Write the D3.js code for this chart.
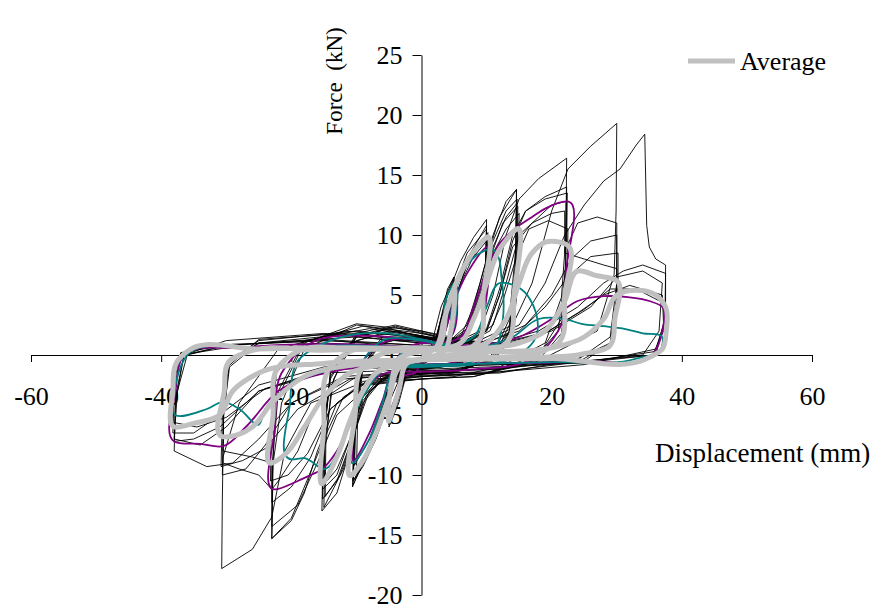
<!DOCTYPE html>
<html lang="en">
<head>
    <meta charset="UTF-8">
    <title>Force - displacement</title>
    <script src="https://cdn.jsdelivr.net/npm/d3@7/dist/d3.min.js"></script>
    <style>
        body { margin: 0; background: #fff; }
        svg { display: block; }
        svg text { font-family: "Liberation Serif", "Times New Roman", serif; fill: #000; }
        svg .axis path, svg .axis line { stroke: #000; stroke-width: 1px; }
        svg .specimen { fill: none; stroke: #000; stroke-width: 0.9px; stroke-linejoin: round; }
        svg .purple { fill: none; stroke: #800080; stroke-width: 1.8px; stroke-linejoin: round; }
        svg .teal { fill: none; stroke: #008080; stroke-width: 1.8px; stroke-linejoin: round; }
        svg .average { fill: none; stroke: #c0c0c0; stroke-width: 5px; stroke-linejoin: round; }
    </style>
</head>
<body>
    <svg width="879" height="609"></svg>
    <script>
    // tick labels
    var xTicks = [-60, -40, -20, 0, 20, 40, 60],
        yTicks = [-20, -15, -10, -5, 0, 5, 10, 15, 20, 25];

    // test specimens, [displacement mm, force kN]
    var spec1 = [[0,0],[1.5,0.8],[3,4],[5,6.5],[4.6,2],[3.5,0.5],[1,-0.5],[0,-0.8],[-2,-1],[-3.5,-4],[-5,-6],[-4.6,-2],[-3.5,-0.5],[-1,0.8],[0,1],
        [2,1],[4,5],[6,7.8],[8,9.8],[10,11.3],[9.8,6],[9,1.5],[7,-0.5],[3,-1],[0,-1.2],[-3,-1.5],[-5,-4],[-7,-7],[-9,-9.3],[-10.5,-10.5],[-10.2,-5],[-9,-1],[-6,1],[-2,1.5],[0,1.2],
        [3,1],[6,1.5],[8,4],[10,8],[12,11.5],[14.6,13.8],[14.5,9],[13.5,3],[11,0],[6,-1.2],[0,-1.5],[-5,-1.8],[-8,-3],[-10,-6],[-12,-9.5],[-15,-12.7],[-14.8,-7],[-13.5,-2],[-10,1.5],[-5,2.2],[0,1.5],
        [5,1],[9,2],[11,5],[13,10],[15,13],[18,14.7],[22.3,16.4],[22.2,10],[21.5,4.8],[19,1],[12,-1],[5,-1.8],[0,-2],[-8,-2.2],[-12,-3.5],[-15,-7],[-18,-11],[-20,-13.6],[-23,-15.3],[-22.8,-9],[-21.5,-4],[-18,0.5],[-10,2.5],[0,1.8],
        [8,1],[14,2.5],[17,6],[20,12],[22.5,15.5],[26,17.4],[30,19.3],[29.9,12],[29.6,6.7],[27,2],[18,-0.5],[8,-1.8],[0,-2],[-10,-2.5],[-17,-4],[-21,-8],[-23,-13.5],[-26,-16.2],[-30.7,-17.8],[-30.6,-12],[-30.5,-8.5],[-28,-4],[-22,0.5],[-12,2],[0,1.5],
        [12,1],[20,2],[26,4],[30,6.5],[34,7],[37,6],[36.5,2],[34,0],[20,-0.8],[0,-1.2],[-15,-1.5],[-25,-3],[-30,-6],[-34,-7.5],[-38,-7],[-37.5,-3],[-36,0],[-30,0.8],[-15,1.2],[0,0.8]];

    var spec2 = [[0,0],[2,1],[3.5,4],[5,5.5],[4.5,1.5],[3,0],[0,-0.8],[-2,-1],[-3.5,-3.5],[-5,-5],[-4.5,-1.5],[-3,0.5],[0,1],
        [3,1],[5,4.5],[7,7.5],[10,10],[9.8,5],[9,1],[6,-0.8],[0,-1.2],[-4,-1.5],[-6,-4],[-8,-7.5],[-10,-9.8],[-9.8,-5],[-9,-1],[-6,1.2],[0,1.5],
        [4,1],[7,2],[9,5],[11,9],[13,11.5],[14.6,12.6],[14.4,7],[13.5,2],[10,-0.5],[4,-1.5],[0,-1.6],[-6,-2],[-9,-3.5],[-11,-7],[-13,-10],[-15.2,-11.2],[-15,-6],[-14,-1.5],[-10,1.5],[-4,2.3],[0,1.8],
        [6,1],[10,2],[12,5],[14,9.5],[16,12],[19,13.2],[22.3,14],[22.2,8],[21.5,3],[18,0],[10,-1.5],[0,-1.8],[-8,-2],[-13,-4],[-16,-8],[-18,-11.5],[-20,-13.8],[-23,-15.3],[-22.9,-10],[-22.5,-4],[-18,1],[-10,2.6],[0,2],
        [9,1],[15,2.5],[19,6],[22,10],[25,12.5],[28,14.5],[30.5,15.5],[33,17.5],[34.3,18.4],[34.6,10.8],[35,9],[36,8],[37.5,7.5],[37.5,3],[36,0.5],[25,-0.8],[10,-1.5],[0,-1.5],[-12,-2],[-20,-4],[-25,-7],[-29,-9],[-33,-9.3],[-38,-8],[-37.8,-4],[-36.5,0],[-30,1.2],[-15,1.8],[0,1]];

    var spec3 = [[0,0],[2,0.8],[4,5],[5,6.2],[4.5,2],[3,0],[0,-0.6],[-2,-0.8],[-4,-4.5],[-5,-5.5],[-4.5,-1.5],[-3,0.3],[0,0.8],
        [3,0.8],[5,5.5],[7,8.5],[10,10.5],[9.8,5],[9,1],[6,-0.8],[0,-1],[-4,-1.3],[-6,-4.5],[-8,-8],[-10.5,-10.8],[-10.2,-5],[-9,-0.5],[-6,1.5],[0,1.5],
        [4,1],[7,2.5],[9,6],[11,10],[13,12.8],[14.6,13.8],[14.5,8],[13.5,2.5],[11,-0.3],[5,-1.5],[0,-1.8],[-6,-2],[-9,-4],[-11,-8],[-13,-11.5],[-15.3,-13],[-15.1,-7],[-14,-2],[-10,1.8],[-4,2.5],[0,2],
        [7,1],[11,2.5],[13,6],[15,10],[18,11.5],[20,12.5],[22.2,12.8],[22.1,7],[21,2],[17,-0.5],[8,-1.8],[0,-2],[-8,-2.5],[-13,-5],[-16,-9],[-19,-12.5],[-23,-14.3],[-22.9,-9],[-22,-3],[-18,1.2],[-8,2.2],[0,1.5],
        [10,1],[16,2.5],[20,5],[23,8],[26,9.5],[30,10],[30,5],[29,1],[25,-0.5],[10,-1.2],[0,-1.3],[-12,-1.8],[-20,-4],[-24,-7.5],[-27,-9.5],[-30.6,-10],[-30.4,-5],[-29.5,-1],[-25,1],[-10,1.5],[0,1]];

    var spec4 = [[0,0],[2,0.6],[4,4.5],[5,5],[4.5,1.5],[3,0],[0,-0.5],[-2,-0.8],[-4,-4],[-5,-5],[-4.5,-1.5],[-3,0],[0,0.6],
        [3,0.6],[5,4.5],[7,7.5],[10,9.5],[9.8,4.5],[9,0.8],[6,-0.6],[0,-0.9],[-4,-1.2],[-6,-4],[-8,-7],[-10.3,-9.2],[-10,-4.5],[-9,-0.5],[-6,1.2],[0,1.2],
        [4,0.8],[7,2],[9,5],[11,8.5],[13,10.5],[15,11.8],[14.8,6],[14,1.5],[11,-0.5],[5,-1.2],[0,-1.4],[-6,-1.7],[-9,-3.5],[-11,-7],[-13,-9.5],[-15,-10.8],[-14.8,-6],[-14,-1.5],[-10,1.2],[-4,2],[0,1.6],
        [6,0.8],[10,2],[12,5],[14,9],[17,11],[20,11.8],[22,12],[22,8.5],[25,8],[28,7.5],[30,7.2],[30,4],[29,1],[24,-0.3],[12,-1.2],[0,-1.4],[-10,-1.8],[-16,-4],[-19,-8],[-22,-10.5],[-23,-11.2],[-25,-10],[-28,-9.5],[-30.5,-9],[-30.4,-5],[-29.5,-0.5],[-25,1],[-10,1.8],[0,1.2],
        [10,0.6],[18,1.5],[24,3.5],[28,5],[32,5.8],[37,5],[37.2,2.5],[36,0],[25,-0.5],[0,-0.8],[-15,-1],[-25,-2.5],[-31,-5],[-35,-6.5],[-38.2,-6.5],[-38,-3],[-37,0],[-30,0.6],[-15,1],[0,0.6]];

    var spec5 = [[0,0],[2,0.7],[4,5.5],[5,6.5],[4.5,2],[3,0.2],[0,-0.7],[-2,-0.9],[-4,-4.5],[-5,-5.8],[-4.6,-2],[-3,0.2],[0,0.8],
        [3,0.8],[5,5],[7,8],[10,10.8],[9.8,5.5],[9,1],[6,-0.8],[0,-1.1],[-4,-1.4],[-6,-4.5],[-8,-8],[-10.5,-10.5],[-10.2,-5],[-9,-0.8],[-6,1.3],[0,1.4],
        [4,1],[7,2.2],[9,5.5],[11,9.5],[13,12],[14.7,13],[14.6,7],[13.5,2],[11,-0.4],[5,-1.4],[0,-1.6],[-6,-1.9],[-9,-3.8],[-11,-7.5],[-13,-10.5],[-15.2,-12],[-15,-6.5],[-14,-1.8],[-10,1.6],[-4,2.4],[0,1.9],
        [6,1],[10,2.2],[12,5.5],[14,10],[16,12],[19,13],[22.4,13.5],[22.3,9],[24,11],[27,11.5],[30,11],[30,6],[29,1.5],[24,-0.4],[12,-1.5],[0,-1.7],[-9,-2.2],[-14,-4.5],[-17,-8.5],[-20,-11],[-23,-12.3],[-23,-9],[-26,-8.5],[-30.5,-8],[-30.4,-4],[-29.5,-0.5],[-25,1.2],[-10,2],[0,1.4],
        [10,0.8],[18,2],[24,4],[28,6],[31,7],[34,7.5],[37.5,6.8],[37.4,3],[36,0.3],[25,-0.6],[0,-1],[-15,-1.2],[-25,-3],[-31,-6],[-35,-7],[-38,-7.2],[-37.8,-3.5],[-36.5,0],[-30,0.8],[-15,1.3],[0,0.8]];

    var spec6 = [[0,0],[1.8,0.5],[3.5,3.5],[5,5.2],[4.6,1.8],[3.2,0.1],[0,-0.6],[-1.8,-0.8],[-3.8,-3.8],[-5,-5.3],[-4.6,-1.8],[-3.2,0.1],[0,0.7],
        [2.8,0.7],[4.5,3.8],[6.5,6.5],[8.5,8.8],[10.2,10.2],[10,6.5],[9.5,2],[7.5,-0.3],[3,-1],[0,-1.1],[-3.5,-1.3],[-5.5,-3.5],[-7.5,-6.8],[-9.5,-9.5],[-10.6,-11],[-10.4,-6],[-9.4,-1.5],[-7,0.8],[-2,1.6],[0,1.3],
        [3.5,0.9],[6.5,1.6],[8.5,4.5],[10.5,8],[12.5,11],[14.8,12.4],[14.7,7.5],[13.8,2.2],[11.5,-0.2],[6,-1.3],[0,-1.6],[-5.5,-1.8],[-8.5,-3.4],[-10.5,-6.8],[-12.5,-10],[-14.8,-11.8],[-14.7,-7.5],[-13.8,-2.5],[-11,1],[-5,2],[0,1.6],
        [6.5,0.9],[10.5,2],[12.5,4.5],[14.5,8],[16.5,10.5],[19.5,11.2],[22.5,10.5],[22.4,6],[21.5,1.8],[18,-0.4],[9,-1.6],[0,-1.8],[-9,-2.4],[-14,-4.5],[-17.5,-8.2],[-20.5,-10],[-23.2,-10.5],[-23.1,-6],[-22.3,-1.5],[-18.5,1],[-9,2.4],[0,1.6],
        [9,0.9],[15,2],[19,4],[22.5,6.5],[26,8.2],[30.2,8.5],[30.2,4.5],[29.2,1],[24,-0.6],[12,-1.4],[0,-1.5],[-11,-2],[-19,-4.5],[-24,-7.8],[-27.5,-8.8],[-30.8,-9.3],[-30.6,-5],[-29.8,-1],[-25,1.3],[-12,1.8],[0,1.1],
        [11,0.8],[19,1.8],[25,3.8],[29,5.5],[33,5.5],[37.3,4.3],[37.2,2],[35.5,0],[24,-0.7],[0,-0.9],[-14,-1.2],[-24,-2.8],[-30,-5.2],[-34.5,-6],[-38.3,-5.6],[-38.1,-2.5],[-37,0.2],[-29,0.9],[-14,1.2],[0,0.6]];

    var specPurple = [[0,0],[2,0.8],[3.5,3.5],[5,5.5],[4.5,1.5],[2,0.5],[0,-0.5],[-1,-1.5],[-2.5,-1.7],[-4,-3.5],[-5,-5],[-4.5,-1.5],[-3,0.3],[0,1],
        [2,1],[5,4.5],[7,6.8],[10,9],[9.8,4],[8.5,0.5],[5,-0.6],[0,-1],[-4,-1.2],[-6,-3.8],[-8,-6.5],[-10.3,-8.8],[-10,-4],[-9,-0.5],[-6,1],[0,1.3],
        [3,1],[6,1.5],[8,4],[10,7],[12,9.3],[14.8,10.7],[17,11.5],[19,12.2],[22.3,12.8],[22.2,7],[21,2],[17,-0.3],[8,-1.2],[0,-1.4],[-6,-1.6],[-9,-3],[-11,-5.5],[-13,-8],[-15.5,-9.6],[-17,-10],[-19,-10.5],[-22.6,-11.2],[-22.5,-6],[-21.5,-1.5],[-17,1],[-8,1.6],[0,1.2],
        [8,0.8],[15,1.5],[20,3],[24,4.5],[28,4.9],[32,4.8],[35,4.5],[37,4],[37,2],[35.5,0],[25,-0.5],[0,-0.8],[-12,-1.2],[-22,-3],[-27,-6],[-30.5,-7.6],[-34,-7.4],[-38,-7.2],[-37.8,-3],[-36.5,0],[-28,0.6],[-12,0.9],[0,0.6]];

    var specTeal = [[0,0],[2,0.6],[4,5],[5,6],[4.5,1.5],[3,0],[0,-0.5],[-2,-0.7],[-4,-4],[-5,-5.2],[-4.5,-1.5],[-3,0.2],[0,0.7],
        [3,0.7],[5,5],[7,7.5],[9,8.5],[11,8.8],[11.5,8.5],[12.3,6.4],[12.5,3],[11.5,0.8],[8,-0.5],[0,-0.9],[-4,-1.2],[-6,-4],[-8,-7],[-10.5,-9],[-10.3,-4.5],[-9,-0.5],[-6,1.2],[0,1.2],
        [4,0.8],[8,1.5],[10,4],[12,6],[15,5.6],[17.6,3.5],[17.6,1.5],[15,0],[8,-0.8],[0,-1],[-6,-1.3],[-9,-3.5],[-12,-7],[-15,-9.5],[-18,-8.6],[-20,-8.7],[-20.2,-4],[-19,-0.5],[-14,1.2],[-5,1.8],[0,1.3],
        [8,0.6],[14,1.5],[18,3],[22,3],[24.6,2.6],[28,2.4],[31,2.2],[34,1.8],[37,1.5],[36.8,0.5],[33,-0.3],[20,-0.6],[0,-0.8],[-12,-1],[-20,-2.5],[-24,-4.5],[-25,-5.8],[-28,-4.5],[-30.4,-3.9],[-33,-4.5],[-37.8,-5],[-37.6,-2],[-36,0],[-25,0.5],[-10,0.8],[0,0.5]];

    // average curve
    var average = [[0,0],[2,0.5],[3.5,3],[5,5.5],[4.5,2],[3.5,0.3],[1,-0.2],[0,-0.3],[-2,-0.6],[-3.5,-3],[-5,-5.5],[-4.5,-2],[-3.5,-0.3],[-1,0.2],[0,0.3],
        [2,0.5],[4,4],[6,6.8],[8,8.6],[10,9.8],[9.5,5],[8.5,1],[6,0.2],[2,-0.2],[0,-0.4],[-3,-0.8],[-5,-3.5],[-7,-6.5],[-9,-8.8],[-10.7,-10],[-10.2,-5],[-9,-1],[-6,0.1],[-2,0.4],[0,0.5],
        [3,0.5],[6,1],[8,3],[10,6],[12,8.8],[14.6,10.5],[14.2,5],[13,1],[10,0.2],[5,-0.1],[0,-0.4],[-4,-0.8],[-7,-1.5],[-9,-3],[-11,-5.5],[-13,-8.5],[-15.2,-10.7],[-15,-6],[-14,-1],[-11,0.3],[-5,0.5],[0,0.6],
        [5,0.5],[10,1],[13,3],[15,6],[17,8.5],[19,9.4],[22.3,9.2],[22,5],[21,1],[18,0.2],[10,-0.2],[0,-0.4],[-6,-0.8],[-11,-1.5],[-15,-3.5],[-18,-6],[-21,-8.3],[-23,-9],[-22.8,-5],[-22,-1],[-19,0.3],[-10,0.5],[0,0.6],
        [8,0.5],[15,1],[19,2],[22,4.5],[24,7],[27,6.6],[30,6.2],[29.7,3],[29,0.8],[25,0.1],[15,-0.2],[0,-0.4],[-10,-0.8],[-18,-1.8],[-23,-4],[-26,-6],[-28,-6.6],[-30.6,-6.8],[-30.3,-3],[-29.5,-0.5],[-27,0.2],[-15,0.4],[0,0.5],
        [10,0.3],[20,0.6],[25,1.5],[28,3],[30,5],[33,5.4],[36,5],[37.5,4],[37.6,2],[37,0.5],[35,-0.2],[20,-0.3],[0,-0.4],[-15,-0.7],[-25,-1.5],[-29,-3],[-31,-5],[-35,-5.7],[-38,-6],[-38.2,-3],[-37.5,-0.5],[-36,0.3],[-25,0.5],[-10,0.6],[0,0.5]];

    var blackSpecimens = [spec1, spec2, spec3, spec4, spec5, spec6];

    var svg = d3.select('svg'),
        x = d3.scaleLinear().domain([-60, 60]).range([31, 812]),
        y = d3.scaleLinear().domain([-20, 25]).range([595, 55]),
        line = d3.line()
            .x(function(d) { return x(d[0]); })
            .y(function(d) { return y(d[1]); }),
        smooth = d3.line()
            .curve(d3.curveCatmullRom.alpha(1))
            .x(function(d) { return x(d[0]); })
            .y(function(d) { return y(d[1]); });

    // axes cross at the origin
    var xAxis = svg.append('g')
        .classed('axis', true)
        .attr('transform', 'translate(0,' + y(0) + ')')
        .call(d3.axisBottom(x).tickValues(xTicks).tickSize(7).tickSizeOuter(0).tickPadding(25));
    xAxis.selectAll('text').style('font-size', '26px');

    var yAxis = svg.append('g')
        .classed('axis', true)
        .attr('transform', 'translate(' + x(0) + ',0)')
        .call(d3.axisLeft(y).tickValues(yTicks).tickSize(9).tickSizeOuter(0).tickPadding(10));
    yAxis.selectAll('text').style('font-size', '26px');

    // d3 uses a unicode minus, the picture has a plain hyphen
    svg.selectAll('.axis text').text(function(d) { return String(d); });

    blackSpecimens.forEach(function(s) {
        svg.append('path').classed('specimen', true).attr('d', line(s));
    });
    svg.append('path').classed('purple', true).attr('d', smooth(specPurple));
    svg.append('path').classed('teal', true).attr('d', smooth(specTeal));
    svg.append('path').classed('average', true).attr('d', smooth(average));

    // titles
    svg.append('text')
        .attr('transform', 'translate(342,81) rotate(-90)')
        .attr('text-anchor', 'middle')
        .attr('xml:space', 'preserve')
        .style('font-size', '23px')
        .text('Force  (kN)');

    svg.append('text')
        .attr('x', 655)
        .attr('y', 462)
        .style('font-size', '27px')
        .text('Displacement (mm)');

    // legend
    svg.append('line')
        .classed('average', true)
        .attr('x1', 688).attr('x2', 735)
        .attr('y1', 61).attr('y2', 61);
    svg.append('text')
        .attr('x', 740)
        .attr('y', 70)
        .style('font-size', '26px')
        .text('Average');
    </script>
</body>
</html>
